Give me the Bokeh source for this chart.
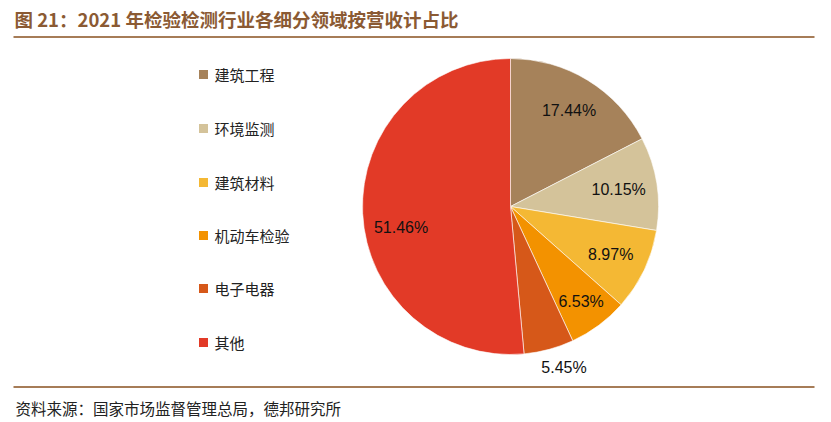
import math
from bokeh.plotting import figure
from bokeh.models import ColumnDataSource, Label
from bokeh.core.properties import value
from bokeh.embed import file_html
from bokeh.resources import INLINE

W, H = 831, 422

title = "图 21：2021 年检验检测行业各细分领域按营收计占比"
source_note = "资料来源：国家市场监督管理总局，德邦研究所"
categories = ["建筑工程", "环境监测", "建筑材料", "机动车检验", "电子电器", "其他"]
shares = [17.44, 10.15, 8.97, 6.53, 5.45, 51.46]
colors = ["#A6825A", "#D4C39A", "#F4B834", "#F39200", "#D65819", "#E23A27"]

# label placement style (radius factor and small pixel nudges)
label_radius_factor = [0.76, 0.74, 0.75, 0.80, 1.13, 0.74]
label_nudge_x = [0, 0, 0, 0, 10, 0]
label_nudge_y = [0, 0, 0, 0, 0, -16]

p = figure(width=W, height=H, x_range=(0, W), y_range=(0, H),
           output_backend="svg", toolbar_location=None, min_border=0,
           outline_line_color=None, background_fill_color="white",
           border_fill_color="white")
p.axis.visible = False
p.grid.visible = False

cx, cy, r = 510, H - 206, 148

total = sum(shares)
starts, ends, lx, ly, texts = [], [], [], [], []
cum = 0.0
for i, s in enumerate(shares):
    a0 = math.pi / 2 - 2 * math.pi * cum / total
    cum += s
    a1 = math.pi / 2 - 2 * math.pi * cum / total
    starts.append(a0)
    ends.append(a1)
    mid = (a0 + a1) / 2
    rr = r * label_radius_factor[i]
    lx.append(cx + rr * math.cos(mid) + label_nudge_x[i])
    ly.append(cy + rr * math.sin(mid) + label_nudge_y[i])
    texts.append(f"{s:.2f}%")

src = ColumnDataSource(dict(start=starts, end=ends, color=colors))
p.wedge(x=cx, y=cy, radius=r, radius_units="screen", start_angle="start",
        end_angle="end", direction="clock", fill_color="color",
        line_color="white", line_width=0.6, source=src)

lsrc = ColumnDataSource(dict(x=lx, y=ly, t=texts))
p.text(x="x", y="y", text="t", source=lsrc, text_align="center",
       text_baseline="middle", text_font=value("Liberation Sans"),
       text_font_size="16px", text_color="#111111")

# legend
leg_y = [74, 128, 182, 235, 288, 342]
ksrc = ColumnDataSource(dict(x=[203] * 6, y=[H - v for v in leg_y], color=colors,
                             tx=[214] * 6, name=categories))
p.rect(x="x", y="y", width=9, height=9, width_units="screen",
       height_units="screen", fill_color="color", line_color=None, source=ksrc)
p.text(x="tx", y="y", text="name", source=ksrc, text_align="left",
       text_baseline="middle", text_font=value("Noto Sans CJK SC"),
       text_font_size="15px", text_color="#222222")

# title and rules
p.add_layout(Label(x=14, y=H - 18, text=title, text_font="Noto Sans CJK SC",
                   text_font_size="18.5px", text_font_style="bold",
                   text_color="#8B5A33", text_baseline="middle"))
p.segment(x0=[13, 13], y0=[H - 36.5, H - 386.5], x1=[814, 814],
          y1=[H - 36.5, H - 386.5], line_color="#A67C57", line_width=2)
p.add_layout(Label(x=15, y=H - 407, text=source_note, text_font="Noto Sans CJK SC",
                   text_font_size="15.5px", text_color="#222222",
                   text_baseline="middle"))

open("out.html", "w").write(file_html(p, INLINE))
